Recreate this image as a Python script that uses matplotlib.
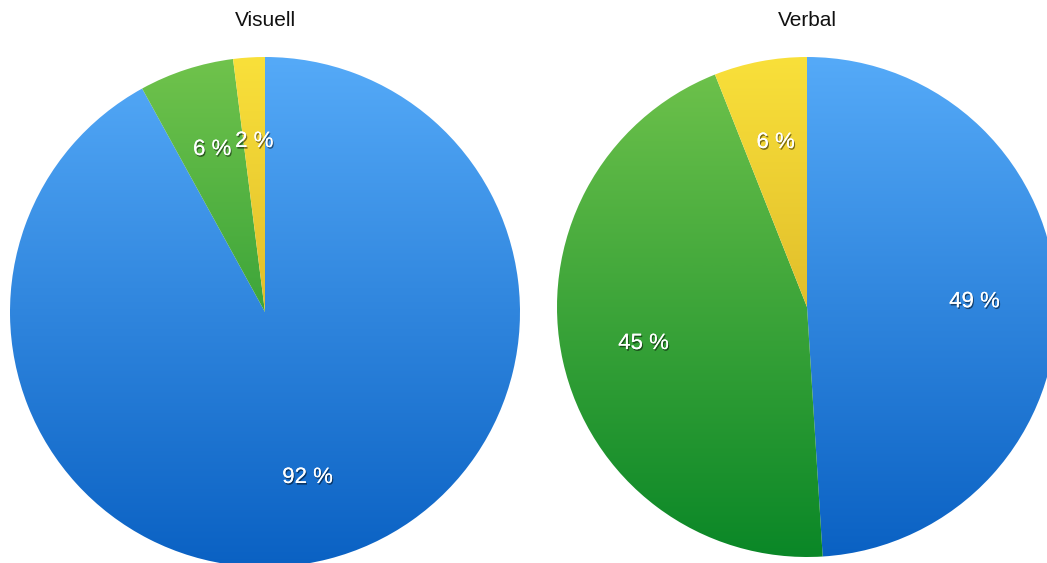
import numpy as np
import matplotlib.pyplot as plt
import matplotlib.patheffects as pe
from matplotlib.colors import LinearSegmentedColormap

plt.rcParams['font.family'] = ['Liberation Sans', 'DejaVu Sans']

titles = ["Visuell", "Verbal"]
visuell = [92, 6, 2]
verbal = [49, 45, 6]

# (top colour, bottom colour) for blue, green, yellow
gradients = [("#55aaf8", "#0a61c3"),
             ("#70c34c", "#0a8727"),
             ("#f9e03a", "#c99d1c")]


def draw_pie(ax, values):
    wedges, texts, autotexts = ax.pie(
        values, startangle=90, counterclock=False, radius=1,
        autopct=lambda p: f"{round(p)} %", pctdistance=0.67,
        textprops=dict(color="white", fontsize=16))
    grad = np.linspace(0, 1, 256).reshape(-1, 1)
    for w, (top, bottom) in zip(wedges, gradients):
        w.set_facecolor("none")
        w.set_edgecolor("none")
        cmap = LinearSegmentedColormap.from_list("g", [bottom, top])
        im = ax.imshow(grad, cmap=cmap, extent=(-1, 1, -1, 1), origin="lower",
                       aspect="auto", zorder=1, interpolation="bilinear")
        im.set_clip_path(w)
    for t in autotexts:
        t.set_zorder(5)
        t.set_path_effects([pe.withSimplePatchShadow(offset=(0.8, -1.2), shadow_rgbFace="black", alpha=0.5),
                            pe.Normal()])
    ax.set_xlim(-1, 1)
    ax.set_ylim(-1, 1)
    ax.set_aspect("equal")
    ax.axis("off")


W, H = 1047, 563
fig = plt.figure(figsize=(W / 100, H / 100), dpi=100)

# left pie: centre (265, 312), radius 255 px
ax1 = fig.add_axes([10 / W, (H - 567) / H, 510 / W, 510 / H])
draw_pie(ax1, visuell)
# right pie: centre (807, 307), radius 250 px
ax2 = fig.add_axes([557 / W, (H - 557) / H, 500 / W, 500 / H])
draw_pie(ax2, verbal)

fig.text(265 / W, 1 - 20 / H, titles[0], ha="center", va="center", fontsize=15, color="#111111")
fig.text(807 / W, 1 - 20 / H, titles[1], ha="center", va="center", fontsize=15, color="#111111")

fig.savefig("out.png", dpi=100)
